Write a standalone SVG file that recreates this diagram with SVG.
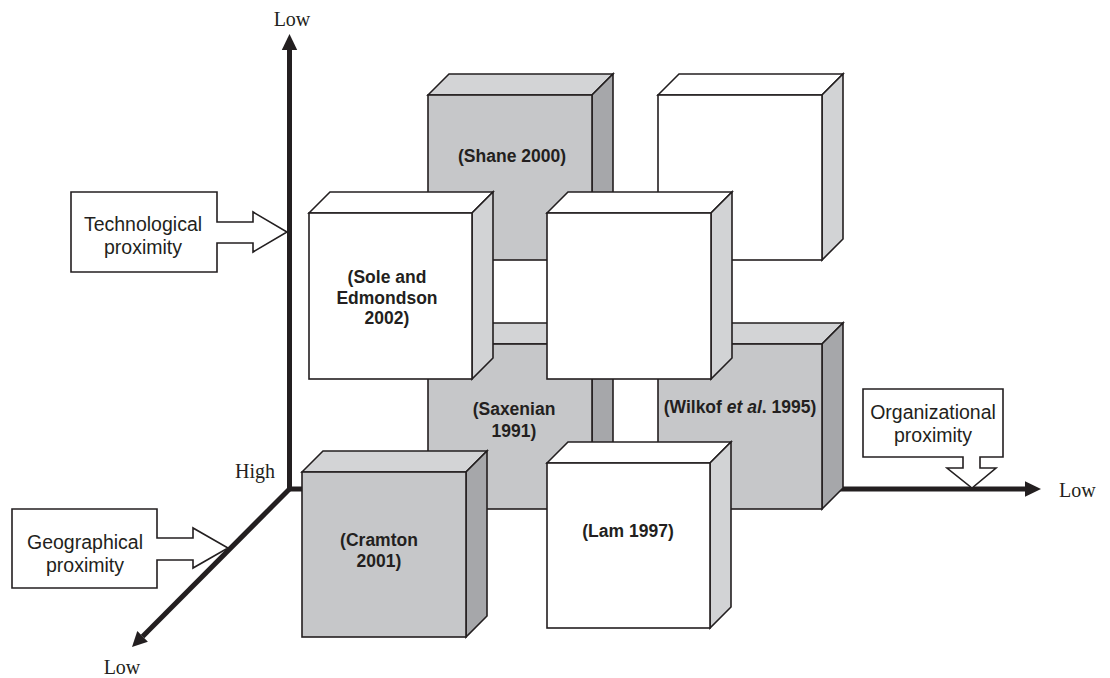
<svg xmlns="http://www.w3.org/2000/svg" width="1110" height="678" viewBox="0 0 1110 678">
<style>
.ln{stroke:#231f20;stroke-width:1.6;stroke-linejoin:miter}
.gf{fill:#c6c7c9}.gt{fill:#d3d4d6}.gr{fill:#a6a7aa}
.wf{fill:#ffffff}.wt{fill:#ffffff}.wr{fill:#d2d3d5}
.lab{font-family:"Liberation Sans",Arial,sans-serif;font-weight:bold;font-size:17.5px;fill:#231f20;text-anchor:middle}
.box{font-family:"Liberation Sans",Arial,sans-serif;font-size:19.5px;fill:#231f20;text-anchor:middle}
.ax{font-family:"Liberation Serif","Times New Roman",serif;font-size:20px;fill:#231f20}
.axis{stroke:#231f20;stroke-width:5;fill:none}
</style>
<rect width="1110" height="678" fill="#ffffff"/>
<g id="connectors">
<path class="axis" d="M289.5,48 V489 H1027"/>
<path class="axis" d="M289.5,489 L142.6,636.4"/>
<polygon fill="#231f20" points="289.5,34 297.2,50 281.8,50"/>
<polygon fill="#231f20" points="1041,489 1025,481.3 1025,496.7"/>
<polygon fill="#231f20" points="132,647 147.9,641.7 137.3,631.1"/>
</g>
<g id="axis-labels">
<text class="ax" x="292" y="26" text-anchor="middle">Low</text>
<text class="ax" x="275" y="478" text-anchor="end">High</text>
<text class="ax" x="1059" y="497">Low</text>
<text class="ax" x="122" y="674" text-anchor="middle">Low</text>
</g>
<g id="technological-proximity">
<path class="ln" fill="#ffffff" d="M71,192 H217 V222 H253 V212 L287,232 L253,252 V243 H217 V272 H71 Z"/>
<text class="box" x="143" y="231">Technological</text>
<text class="box" x="143" y="254">proximity</text>
</g>
<g id="geographical-proximity">
<path class="ln" fill="#ffffff" d="M12,509 H157 V538 H193 V528 L228,548 L193,568 V560 H157 V588 H12 Z"/>
<text class="box" x="85" y="549">Geographical</text>
<text class="box" x="85" y="572">proximity</text>
</g>
<g id="organizational-proximity">
<path class="ln" fill="#ffffff" d="M863,389 H1003 V457 H980 V468 H996 L972,488 L947,468 H963 V457 H863 Z"/>
<text class="box" x="933" y="419">Organizational</text>
<text class="box" x="933" y="442">proximity</text>
</g>
<g id="cube-shane">
<polygon class="ln gt" points="428,95 449,74 613,74 592,95"/>
<polygon class="ln gr" points="592,95 613,74 613,239 592,260"/>
<rect class="ln gf" x="428" y="95" width="164" height="165"/>
<text class="lab" x="512" y="162">(Shane 2000)</text>
</g>
<g id="cube-back-top-right">
<polygon class="ln wt" points="658,95 679,74 843,74 822,95"/>
<polygon class="ln wr" points="822,95 843,74 843,239 822,260"/>
<rect class="ln wf" x="658" y="95" width="164" height="165"/>
</g>
<g id="cube-saxenian">
<polygon class="ln gt" points="428,344 449,323 613,323 592,344"/>
<polygon class="ln gr" points="592,344 613,323 613,488 592,509"/>
<rect class="ln gf" x="428" y="344" width="164" height="165"/>
<text class="lab" x="514" y="415">(Saxenian</text>
<text class="lab" x="514" y="437">1991)</text>
</g>
<g id="cube-wilkof">
<polygon class="ln gt" points="658,344 679,323 843,323 822,344"/>
<polygon class="ln gr" points="822,344 843,323 843,488 822,509"/>
<rect class="ln gf" x="658" y="344" width="164" height="165"/>
<text class="lab" x="740" y="413">(Wilkof <tspan font-style="italic">et al</tspan>. 1995)</text>
</g>
<g id="cube-sole">
<polygon class="ln wt" points="309,213 330,192 493,192 472,213"/>
<polygon class="ln wr" points="472,213 493,192 493,358 472,379"/>
<rect class="ln wf" x="309" y="213" width="163" height="166"/>
<text class="lab" x="387" y="283">(Sole and</text>
<text class="lab" x="387" y="303.5">Edmondson</text>
<text class="lab" x="387" y="324">2002)</text>
</g>
<g id="cube-front-top-right">
<polygon class="ln wt" points="547,213 568,192 732,192 711,213"/>
<polygon class="ln wr" points="711,213 732,192 732,358 711,379"/>
<rect class="ln wf" x="547" y="213" width="164" height="166"/>
</g>
<g id="cube-cramton">
<polygon class="ln gt" points="302,472 323,451 487,451 466,472"/>
<polygon class="ln gr" points="466,472 487,451 487,616 466,637"/>
<rect class="ln gf" x="302" y="472" width="164" height="165"/>
<text class="lab" x="379" y="546">(Cramton</text>
<text class="lab" x="379" y="567">2001)</text>
</g>
<g id="cube-lam">
<polygon class="ln wt" points="547,463 568,442 731,442 710,463"/>
<polygon class="ln wr" points="710,463 731,442 731,607 710,628"/>
<rect class="ln wf" x="547" y="463" width="163" height="165"/>
<text class="lab" x="628" y="537">(Lam 1997)</text>
</g>
</svg>
